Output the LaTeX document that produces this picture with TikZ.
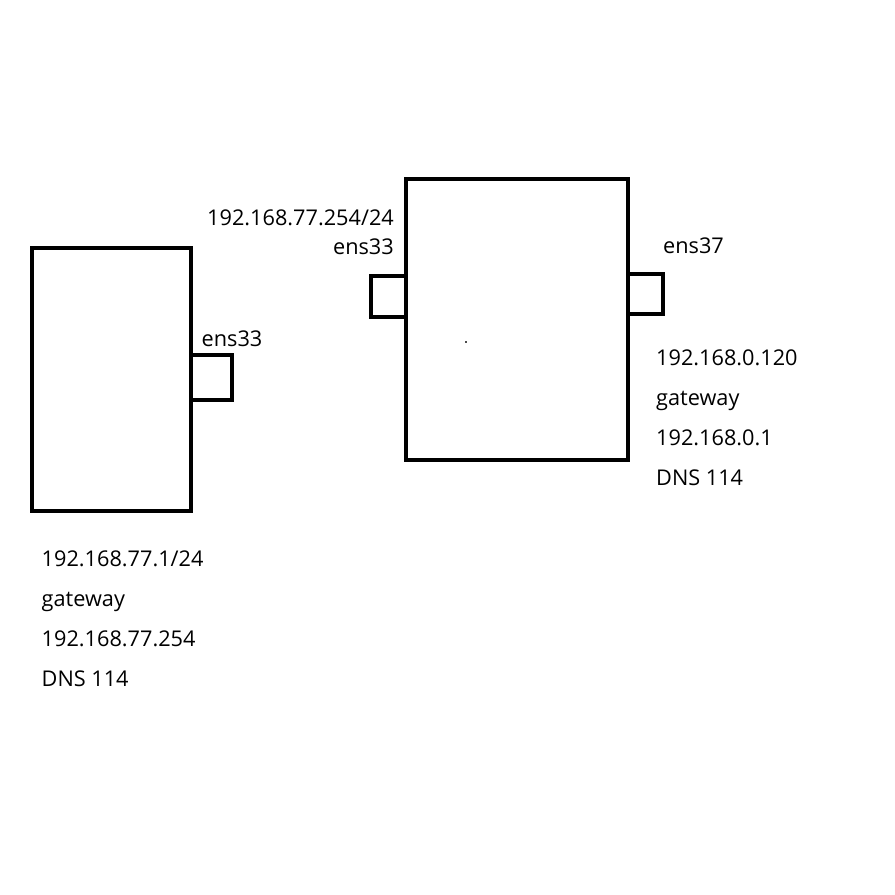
\documentclass[tikz,border=0pt]{standalone}
\usepackage{fontspec}
\setmainfont{Open Sans}
\begin{document}
\begin{tikzpicture}[x=1pt,y=-1pt,
  box/.style={draw=black,line width=4.5pt,rectangle,inner sep=0pt,fill=white},
  lbl/.style={anchor=base west,inner sep=0pt,font=\fontsize{21.7}{26}\selectfont},
  lblr/.style={anchor=base east,inner sep=0pt,font=\fontsize{21.7}{26}\selectfont}]
\useasboundingbox[fill=white] (0,0) rectangle (895,895);
% left host
\node[box,minimum width=159pt,minimum height=263pt] (hostA) at (111.5,379.5) {};
\node[box,minimum width=41pt,minimum height=45pt] (nicA) at (211.5,377.5) {};
\node[box,minimum width=159pt,minimum height=263pt,fill=none] (hostAedge) at (111.5,379.5) {};
% right host
\node[box,minimum width=222pt,minimum height=281pt] (hostB) at (517,319.5) {};
\node[box,minimum width=35pt,minimum height=41pt] (nicB1) at (388.5,296.5) {};
\node[box,minimum width=35pt,minimum height=40pt] (nicB2) at (645.5,294) {};
\node[box,minimum width=222pt,minimum height=281pt,fill=none] (hostBedge) at (517,319.5) {};
\fill[black!70] (465.3,341.3) rectangle (466.7,342.7);
% labels
\node[lbl] (ensA) at (201.5,346) {ens33};
\node[lbl] (ipB1) at (207,225) {192.168.77.254/24};
\node[lblr] (ensB1) at (394,254) {ens33};
\node[lbl] (ensB2) at (663,253) {ens37};
\node[lbl] (b1) at (656,365.5) {192.168.0.120};
\node[lbl] (b2) at (656,405.5) {gateway};
\node[lbl] (b3) at (656,445) {192.168.0.1};
\node[lbl] (b4) at (656,485) {DNS 114};
\node[lbl] (a1) at (41.5,566.5) {192.168.77.1/24};
\node[lbl] (a2) at (41.5,606.5) {gateway};
\node[lbl] (a3) at (41.5,646.5) {192.168.77.254};
\node[lbl] (a4) at (41.5,686.5) {DNS 114};
\end{tikzpicture}
\end{document}
